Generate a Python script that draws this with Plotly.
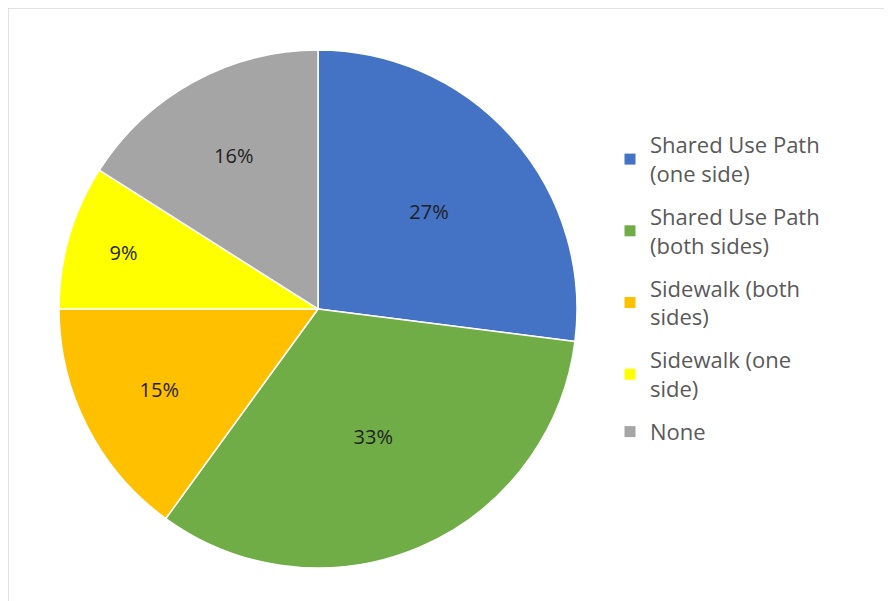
import plotly.graph_objects as go

categories = ["Shared Use Path<br>(one side)", "Shared Use Path<br>(both sides)",
              "Sidewalk (both<br>sides)", "Sidewalk (one<br>side)", "None"]
values = [27, 33, 15, 9, 16]
colors = ["#4472C4", "#70AD47", "#FFC000", "#FFFF00", "#A5A5A5"]

# page is drawn with an 8px body margin; figure coordinates = page - 8
W, H = 884, 593
cx, cy, r = 310, 301, 259

fig = go.Figure()
fig.add_trace(go.Pie(
    labels=categories, values=values, sort=False, direction="clockwise",
    rotation=0, showlegend=False,
    marker=dict(colors=colors, line=dict(color="white", width=1.5)),
    texttemplate="%{percent:.0%}",
    textposition="inside", insidetextorientation="horizontal",
    textfont=dict(size=20, color="#1F1F1F", family="Open Sans"),
    domain=dict(x=[(cx - r) / W, (cx + r) / W], y=[1 - (cy + r) / H, 1 - (cy - r) / H]),
    hoverinfo="label+percent",
))

# legend entries (square swatches) tied to the same categories/colors
for lab, col in zip(categories, colors):
    fig.add_trace(go.Scatter(
        x=[None], y=[None], mode="markers", name=lab, legendgroup=lab,
        marker=dict(symbol="square", size=11, color=col),
        hoverinfo="skip",
    ))

fig.update_layout(
    width=W, height=H,
    margin=dict(l=0, r=0, t=0, b=0),
    paper_bgcolor="white", plot_bgcolor="white",
    font=dict(family="Open Sans", color="#595959"),
    xaxis=dict(visible=False), yaxis=dict(visible=False),
    legend=dict(x=602 / W, y=1 - 116 / H, xanchor="left", yanchor="top",
                font=dict(size=22, color="#595959", family="Open Sans"),
                itemwidth=30, tracegroupgap=11.5),
    shapes=[
        dict(type="line", xref="paper", yref="paper", x0=0, x1=1, y0=1, y1=1,
             line=dict(color="#D9D9D9", width=1.5)),
        dict(type="line", xref="paper", yref="paper", x0=0, x1=0, y0=0, y1=1,
             line=dict(color="#D9D9D9", width=1.5)),
    ],
)

fig.write_html("out.html")
